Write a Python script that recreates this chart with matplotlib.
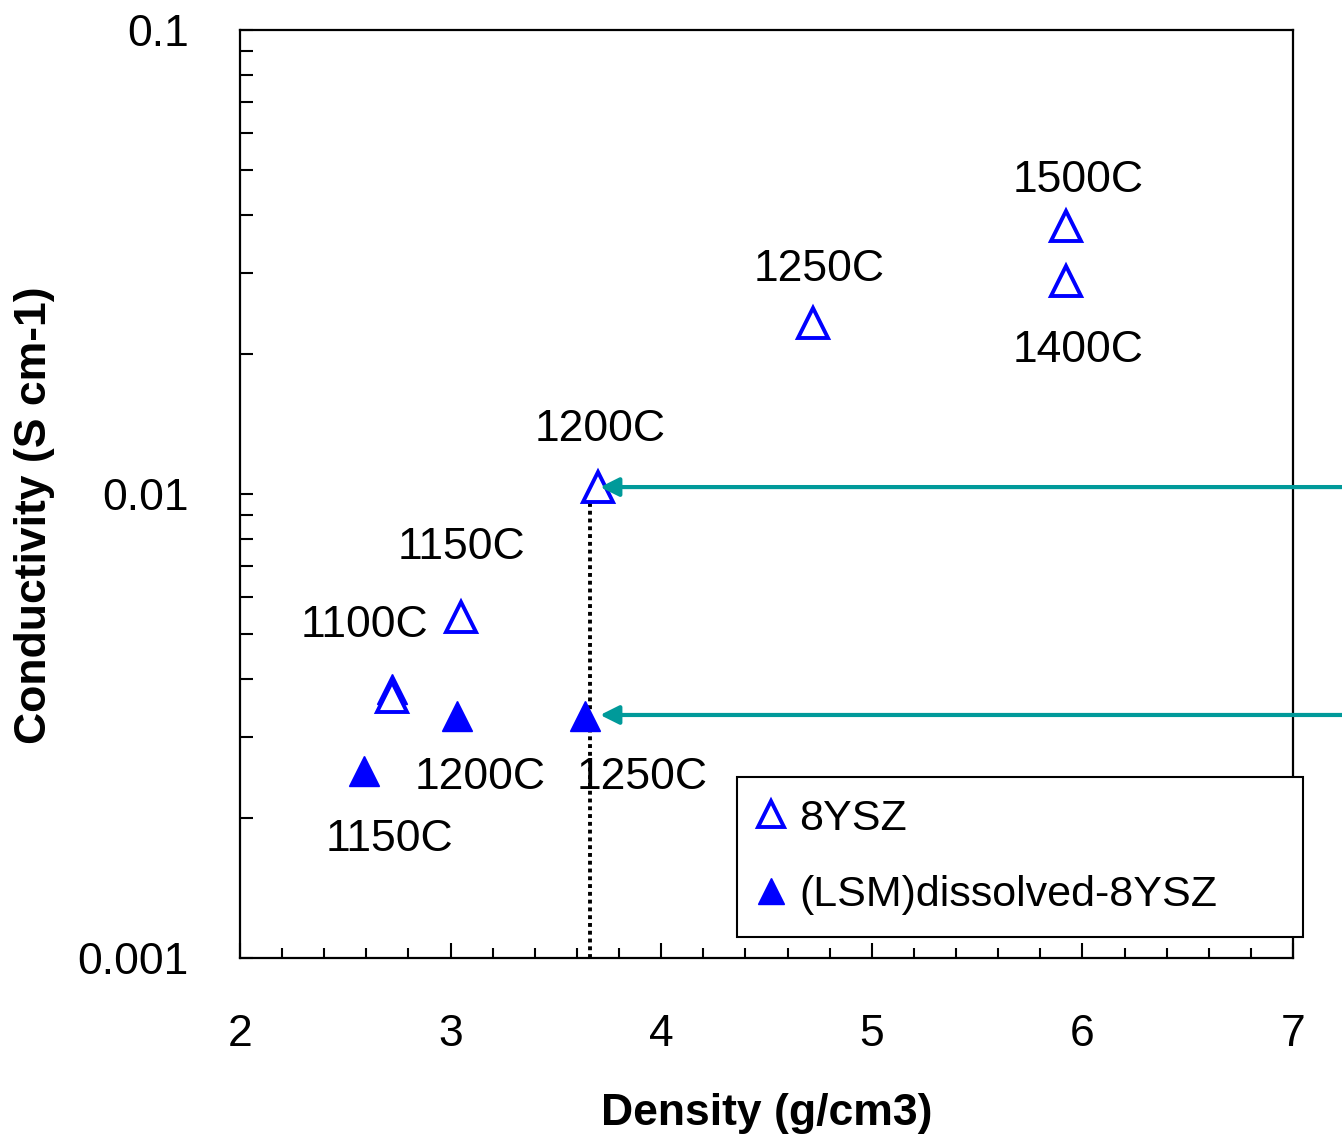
import matplotlib

matplotlib.use("Agg")
import matplotlib.pyplot as plt  # noqa: E402
from matplotlib.ticker import MultipleLocator, LogLocator, NullFormatter  # noqa: E402

# 8YSZ (open triangles)
ysz_density = [2.72, 3.05, 3.70, 4.72, 5.92, 5.92]
ysz_cond = [0.00365, 0.00543, 0.01035, 0.0234, 0.0288, 0.0379]

# (LSM)dissolved-8YSZ (filled triangles)
lsm_density = [2.59, 2.72, 3.03, 3.64]
lsm_cond = [0.00253, 0.00380, 0.00332, 0.00333]

# temperature labels: text, x, y (data coords)
label_text = ["1500C", "1250C", "1400C", "1200C", "1150C", "1100C", "1200C", "1250C", "1150C"]
label_x = [5.98, 4.75, 5.98, 3.71, 3.05, 2.59, 3.14, 3.91, 2.71]
label_y = [0.0475, 0.0304, 0.0204, 0.01374, 0.00765, 0.00522, 0.00245, 0.00245, 0.00180]

# dotted guide and arrows
guide_x = 3.66
guide_top = 0.0103
arrow_tip_x = [3.71, 3.71]
arrow_y = [0.01035, 0.00334]

BLUE = "#0000ff"
TEAL = "#009a9a"

plt.rcParams["font.family"] = ["Liberation Sans", "DejaVu Sans"]

fig = plt.figure(figsize=(13.42, 11.34), dpi=100)
ax = fig.add_axes([240 / 1342, 1 - 958 / 1134, (1293 - 240) / 1342, (958 - 30) / 1134])

ax.set_yscale("log")
ax.set_xlim(2, 7)
ax.set_ylim(0.001, 0.1)

ax.plot([guide_x, guide_x], [0.001, guide_top], color="black", linestyle=(0, (1, 1)),
        linewidth=2.8, zorder=2)

ax.plot(ysz_density, ysz_cond, linestyle="none", marker="^", markersize=21,
        markerfacecolor="white", markeredgecolor=BLUE, markeredgewidth=2.8,
        label="8YSZ", zorder=4)
ax.plot(lsm_density, lsm_cond, linestyle="none", marker="^", markersize=21,
        markerfacecolor=BLUE, markeredgecolor=BLUE, markeredgewidth=1.0,
        label="(LSM)dissolved-8YSZ", zorder=3)

for text, x, y in zip(label_text, label_x, label_y):
    ax.text(x, y, text, ha="center", va="center", fontsize=32, zorder=5)

for tip_x, y in zip(arrow_tip_x, arrow_y):
    ax.annotate("", xy=(tip_x, y), xycoords="data",
                xytext=(1.0, y), textcoords=("figure fraction", "data"),
                arrowprops=dict(arrowstyle="-|>", color=TEAL, lw=3.0,
                                mutation_scale=28, shrinkA=0, shrinkB=0),
                annotation_clip=False, zorder=6)

ax.xaxis.set_major_locator(MultipleLocator(1))
ax.xaxis.set_minor_locator(MultipleLocator(0.2))
ax.yaxis.set_minor_locator(LogLocator(base=10, subs=range(2, 10), numticks=20))
ax.yaxis.set_minor_formatter(NullFormatter())
ax.set_yticks([0.001, 0.01, 0.1])
ax.set_yticklabels(["0.001", "0.01", "0.1"])
ax.set_xticks([2, 3, 4, 5, 6, 7])
ax.set_xticklabels(["2", "3", "4", "5", "6", "7"])

ax.tick_params(axis="x", which="major", direction="in", length=11, width=1.5,
               labelsize=32, pad=40, top=False)
ax.tick_params(axis="x", which="minor", direction="in", length=7, width=1.5, top=False)
ax.tick_params(axis="y", which="both", direction="in", length=9, width=1.5,
               labelsize=32, pad=37, right=False)

for spine in ax.spines.values():
    spine.set_linewidth(1.6)

ax.set_xlabel("Density (g/cm3)", fontsize=32, fontweight="bold")
ax.set_ylabel("Conductivity (S cm-1)", fontsize=32, fontweight="bold")
ax.xaxis.set_label_coords(0.5, -0.146)
ax.yaxis.set_label_coords(-0.176, 0.477)

leg = ax.legend(loc="upper left",
                bbox_to_anchor=(737 / 1342, 1 - 777 / 1134, (1303 - 737) / 1342, 0),
                bbox_transform=fig.transFigure, mode="expand",
                fontsize=31, frameon=True, fancybox=False, framealpha=1,
                edgecolor="black", handlelength=0.6, handletextpad=0.35,
                labelspacing=0.85, borderpad=0.5, borderaxespad=0, markerscale=0.9)
leg.get_frame().set_linewidth(1.5)
leg.set_zorder(7)

fig.savefig("out.png", dpi=100)
